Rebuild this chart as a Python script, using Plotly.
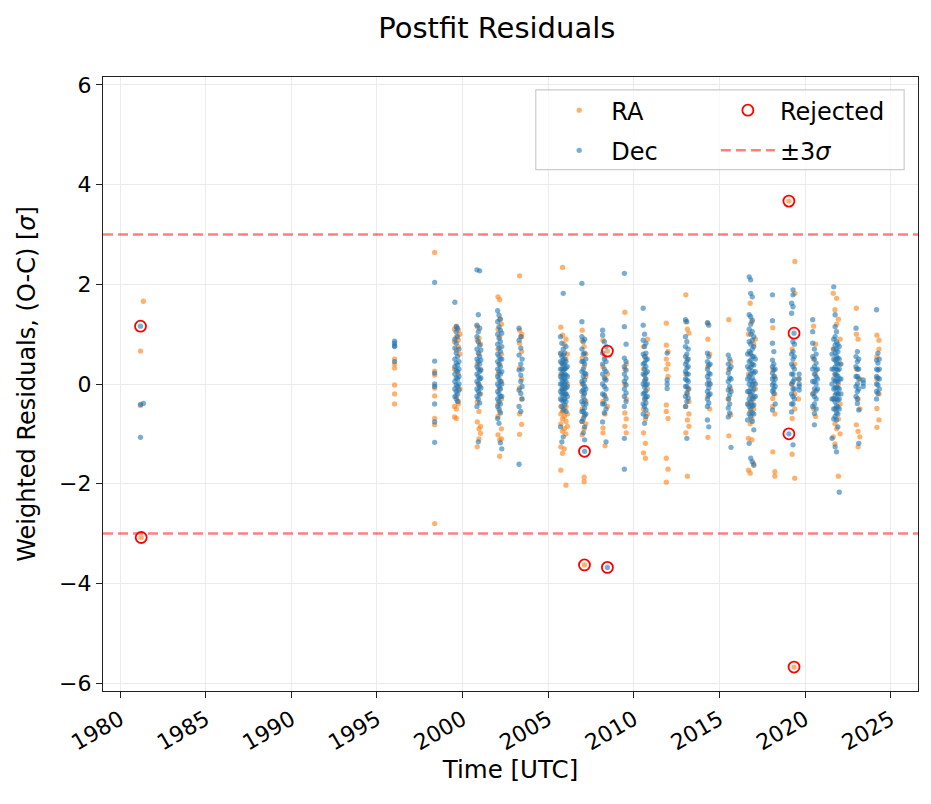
import plotly.graph_objects as go

# Observation nights: (epoch in decimal years, weighted residuals in sigma)
RA_OBS = [
    (1981.36, [1.66]), (1981.19, [0.66, -0.43]), (1981.23, [-3.08]),
    (1996.03, [0.50, 0.40, 0.32, -0.02, -0.20, -0.40]),
    (1998.37, [2.64, 0.26, 0.18, -0.08, -0.24, -0.69, -0.82, -2.80]),
    (1999.53, [1.10, 0.85, 0.30, -0.45, -0.66]),
    (1999.64, [1.16, 0.95, 0.68, -0.25, -0.50, -0.69]),
    (1999.75, [1.08, 0.88, 0.75, 0.20, -0.35, -0.40]),
    (1999.84, [1.00, 0.60, -0.10]),
    (2000.86, [1.15, 0.88, 0.40, -0.36, -0.76, -1.26]),
    (2000.96, [0.92, 0.60, 0.00, -0.55, -0.90, -1.10]),
    (2001.05, [0.80, 0.30, -0.20, -0.85, -0.99]),
    (2002.07, [1.75, 1.10, 0.70, 0.20, -0.40, -0.65, -1.02]),
    (2002.17, [1.69, 1.30, 0.95, 0.40, -0.10, -0.55, -1.12, -1.45]),
    (2002.27, [1.20, 0.60, 0.05, -0.30, -0.90, -1.10]),
    (2003.33, [2.17, 1.08, 0.82, 0.32, -0.08, -0.60, -1.01]),
    (2003.45, [1.00, 0.95, 0.65, 0.10, -0.30, -0.81]),
    (2005.74, [1.14, 0.60, 0.20, -0.45, -0.60, -0.80, -1.26, -1.73]),
    (2005.84, [2.34, 0.98, 0.40, -0.10, -0.55, -0.70, -0.95, -1.39]),
    (2005.94, [0.80, 0.30, -0.30, -0.50, -0.65, -0.90, -1.30]),
    (2006.04, [0.90, 0.50, -0.20, -0.45, -0.75, -1.00, -2.03]),
    (2006.12, [0.60, 0.00, -0.60, -0.85]),
    (2006.99, [1.08, 0.88, 0.52, 0.00, -0.50, -0.75, -1.02]),
    (2007.10, [0.75, 0.35, -0.20, -0.65, -0.90, -1.87, -1.96]),
    (2007.12, [-3.63]),
    (2007.20, [0.60, 0.15, -0.35, -0.80]),
    (2008.20, [0.88, 0.35, -0.35, -0.88, -0.98]),
    (2008.32, [0.55, 0.10, -0.25, -0.60, -1.24]),
    (2008.46, [0.66, 0.20, -0.45]),
    (2009.48, [1.44, 0.30, 0.00, -0.58, -0.85]),
    (2009.56, [0.40, -0.30, -0.70, -0.98]),
    (2010.57, [0.75, 0.30, -0.50, -0.98, -1.38]),
    (2010.68, [0.55, 0.10, -0.30, -0.70, -1.19, -1.49]),
    (2010.80, [0.90, -0.10, -0.60]),
    (2011.90, [1.22, 0.78, 0.50, 0.30, -0.42, -0.55, -1.49, -1.97]),
    (2012.00, [0.65, 0.40, 0.15, -0.69, -1.71]),
    (2013.04, [1.79, 1.25, 0.20, -0.45, -0.98]),
    (2013.13, [1.10, 0.50, -0.20, -0.72, -1.85]),
    (2013.22, [1.02, -0.10, -0.35, -0.60, -0.85]),
    (2014.33, [1.22, 0.90, 0.35, -0.25, -1.07]),
    (2014.43, [0.60, 0.00, -0.50]),
    (2015.55, [1.29, 0.30, -0.30, -1.04]),
    (2015.66, [0.45, -0.10, -0.62]),
    (2016.70, [1.00, 0.20, -0.40, -1.09, -1.73]),
    (2016.80, [1.62, 0.60, -0.20, -0.55, -0.80, -1.79]),
    (2016.90, [1.25, 0.40, -0.40, -0.70, -1.12]),
    (2017.00, [0.80, 0.00, -0.30, -0.50, -1.60]),
    (2017.10, [0.90, -0.10]),
    (2018.12, [1.13, 0.30, -0.29, -0.45, -1.36]),
    (2018.24, [0.15, -0.20, -0.60, -1.76, -1.85]),
    (2019.06, [3.67]),
    (2019.41, [2.46, 1.82]),
    (2019.25, [0.70, 0.00, -0.69, -1.41]),
    (2019.40, [0.40, -0.20, -0.50, -1.89]),
    (2019.36, [-5.68]),
    (2019.62, [0.10, -0.30]),
    (2020.50, [1.16, 0.50, -0.19, -0.49]),
    (2020.62, [0.80, 0.20, -0.65]),
    (2021.65, [1.82, 0.70, -0.30, -1.06]),
    (2021.75, [1.49, 0.20, -0.80, -1.20]),
    (2021.85, [1.72, 1.20, 0.50, -0.50, -0.90]),
    (2021.95, [1.30, 0.00, -0.20, -0.70, -1.85]),
    (2022.05, [0.90, 0.40, -0.40, -1.00]),
    (2023.00, [1.52, 1.00, 0.30, -0.82]),
    (2023.10, [0.90, -0.30, -0.95, -1.26]),
    (2023.20, [0.10, -0.50, -1.06]),
    (2024.20, [0.98, 0.55, 0.10, -0.49, -0.87]),
    (2024.32, [0.88, 0.70, -0.20, -0.72]),
]

DEC_OBS = [
    (1981.19, [1.16, -0.41, -1.07]), (1981.36, [-0.39]),
    (1996.03, [0.86, 0.82, 0.77, 0.75, 0.45]),
    (1998.37, [2.04, 0.46, 0.22, 0.00, -0.05, -0.40, -0.76, -1.17]),
    (1999.55, [1.64, 0.90, 0.72, 0.50, 0.35, 0.20, 0.05, -0.10, -0.25]),
    (1999.63, [1.15, 1.05, 0.82, 0.62, 0.42, 0.28, 0.12, -0.02, -0.15, -0.30]),
    (1999.71, [1.12, 0.95, 0.55, 0.38, 0.25, 0.10, -0.05, -0.20, -0.35]),
    (1999.79, [0.70, 0.45, 0.30, 0.15, 0.00, -0.12]),
    (2000.84, [2.29, 1.18, 0.95, 0.70, 0.50, 0.35, 0.20, 0.05, -0.10, -0.25, -0.45]),
    (2000.92, [1.39, 1.05, 0.85, 0.62, 0.45, 0.30, 0.15, 0.00, -0.15, -0.30, -1.16]),
    (2001.00, [2.27, 1.12, 0.78, 0.55, 0.40, 0.25, 0.10, -0.05, -0.20, -0.38]),
    (2001.07, [0.68, 0.48, 0.28, 0.12, -0.08]),
    (2002.05, [1.47, 1.25, 1.00, 0.80, 0.60, 0.45, 0.30, 0.15, 0.00, -0.15, -0.30, -0.45, -0.69]),
    (2002.13, [1.38, 1.15, 0.92, 0.72, 0.55, 0.40, 0.25, 0.10, -0.05, -0.20, -0.35, -0.50, -0.79]),
    (2002.21, [1.30, 1.08, 0.85, 0.65, 0.50, 0.35, 0.20, 0.05, -0.10, -0.25, -0.40, -0.58, -1.18]),
    (2002.29, [1.02, 0.75, 0.50, 0.25, 0.00, -0.25, -1.30]),
    (2003.30, [1.12, 0.88, 0.58, 0.28, -0.12, -0.45, -1.61]),
    (2003.40, [0.95, 0.72, 0.40, 0.18, 0.05, -0.19, -0.55]),
    (2003.48, [0.50, 0.30, -0.05, -0.30]),
    (2005.72, [0.95, 0.62, 0.45, 0.30, 0.15, 0.00, -0.15, -0.30, -0.86]),
    (2005.80, [0.82, 0.55, 0.42, 0.30, 0.20, 0.10, 0.00, -0.10, -0.20, -0.32, -0.45, -1.16]),
    (2005.88, [1.82, 0.70, 0.58, 0.48, 0.38, 0.28, 0.18, 0.08, -0.02, -0.12, -0.22, -0.35,
               -0.52, -1.06]),
    (2005.96, [0.62, 0.50, 0.40, 0.30, 0.20, 0.10, 0.00, -0.10, -0.20, -0.30, -0.42]),
    (2006.04, [0.75, 0.45, 0.32, 0.18, 0.05, -0.08, -0.20, -0.35, -0.55]),
    (2006.12, [0.35, 0.15, -0.05, -0.25]),
    (2006.97, [2.02, 1.25, 0.95, 0.70, 0.45, 0.25, 0.05, -0.15, -0.35, -0.55, -0.75]),
    (2007.05, [0.85, 0.60, 0.45, 0.30, 0.15, 0.00, -0.12, -0.25, -0.40, -0.55, -0.70, -0.98]),
    (2007.13, [0.90, 0.62, 0.40, 0.22, 0.08, -0.05, -0.18, -0.32, -0.48, -0.62, -0.86, -1.12,
               -1.35]),
    (2007.20, [0.50, 0.20, -0.10, -0.40, -0.60]),
    (2008.18, [1.08, 0.98, 0.62, 0.40, 0.20, 0.00, -0.20, -0.40, -0.76]),
    (2008.28, [0.85, 0.50, 0.30, 0.12, -0.05, -0.22, -0.40, -0.58]),
    (2008.38, [0.75, 0.45, 0.25, 0.08, -0.10, -0.30, -0.50, -1.16]),
    (2008.46, [-3.68]),
    (2009.45, [2.22, 1.15, 0.52, 0.35, 0.20, 0.05, -0.10, -0.25, -0.45, -1.09, -1.71]),
    (2009.55, [0.80, 0.45, 0.28, 0.12, -0.02, -0.18, -0.35]),
    (2010.55, [1.52, 1.18, 0.88, 0.60, 0.40, 0.20, 0.00, -0.20, -0.40, -0.60]),
    (2010.63, [1.00, 0.75, 0.55, 0.42, 0.30, 0.18, 0.06, -0.06, -0.18, -0.30, -0.45, -0.79]),
    (2010.71, [0.82, 0.62, 0.48, 0.35, 0.22, 0.10, -0.02, -0.14, -0.26, -0.38, -0.52, -0.65]),
    (2010.79, [0.50, 0.25, 0.00, -0.25]),
    (2011.95, [0.62, 0.08, 0.00, -0.09]),
    (2013.02, [1.29, 0.95, 0.75, 0.55, 0.40, 0.25, 0.10, -0.05, -0.25, -0.45]),
    (2013.10, [1.25, 0.85, 0.60, 0.45, 0.32, 0.20, 0.08, -0.05, -0.18, -0.35, -1.09]),
    (2013.18, [0.70, 0.50, 0.35, 0.20, 0.05, -0.10, -0.28]),
    (2014.30, [1.23, 0.62, 0.45, 0.30, 0.15, 0.00, -0.15, -0.30, -0.45, -0.72]),
    (2014.38, [1.18, 0.55, 0.38, 0.22, 0.08, -0.08, -0.22, -0.38, -0.86]),
    (2014.46, [0.40, 0.20, 0.00, -0.20]),
    (2015.52, [0.58, 0.40, 0.22, 0.05, -0.12, -0.30, -0.48, -0.66]),
    (2015.60, [0.50, 0.30, 0.12, -0.05, -0.22, -0.40, -0.58]),
    (2015.68, [0.35, 0.10, -0.15, -1.27]),
    (2016.65, [0.60, 0.35, 0.10, -0.15, -0.40, -0.72]),
    (2016.74, [2.15, 1.39, 1.10, 0.85, 0.65, 0.45, 0.30, 0.15, 0.00, -0.15, -0.30, -0.45,
               -0.60, -1.19]),
    (2016.83, [2.09, 1.82, 1.35, 1.20, 1.00, 0.80, 0.62, 0.48, 0.34, 0.20, 0.06, -0.08,
               -0.22, -0.36, -0.50, -0.65, -1.49]),
    (2016.92, [1.75, 1.28, 1.05, 0.88, 0.70, 0.55, 0.40, 0.26, 0.12, -0.02, -0.16, -0.30,
               -0.44, -0.58, -0.75, -1.56]),
    (2017.01, [0.95, 0.75, 0.55, 0.38, 0.22, 0.06, -0.10, -0.26, -0.42, -0.60, -0.92, -1.63]),
    (2017.10, [0.50, 0.25, 0.00, -0.25]),
    (2018.10, [1.79, 1.27, 0.82, 0.48, 0.35, 0.22, 0.10, -0.02, -0.14, -0.52]),
    (2018.18, [0.65, 0.40, 0.28, 0.15, 0.02, -0.10, -0.19]),
    (2018.26, [0.30, 0.10, -0.05, -0.40]),
    (2019.22, [1.62, 1.42, 0.60, 0.40, 0.20, 0.00, -0.20, -0.40, -0.56]),
    (2019.30, [1.89, 1.79, 1.55, 0.85, 0.65, 0.50, 0.35, 0.20, 0.05, -0.10, -0.25, -0.40,
               -1.22]),
    (2019.38, [0.80, 0.55, 0.30, 0.10, -0.10, -0.30]),
    (2019.36, [1.02]), (2019.06, [-1.00]),
    (2019.66, [0.20, 0.10, 0.00, -0.05, -0.12]),
    (2020.45, [1.29, 1.05, 0.82, 0.55, 0.30, 0.05, -0.20, -0.45]),
    (2020.55, [0.70, 0.50, 0.35, 0.20, 0.05, -0.10, -0.25, -0.40, -0.59, -0.82]),
    (2020.65, [0.60, 0.42, 0.28, 0.14, 0.00, -0.14, -0.30, -0.50]),
    (2020.73, [0.30, 0.10, -0.10]),
    (2021.58, [0.60, 0.30, 0.00, -0.30, -1.09]),
    (2021.68, [1.95, 0.90, 0.70, 0.50, 0.30, 0.10, -0.10, -0.30, -0.50, -0.70]),
    (2021.76, [1.39, 1.15, 0.95, 0.78, 0.62, 0.48, 0.34, 0.20, 0.06, -0.08, -0.22, -0.36,
               -0.50, -0.65, -1.26]),
    (2021.84, [1.05, 0.85, 0.70, 0.56, 0.42, 0.30, 0.18, 0.06, -0.06, -0.18, -0.30, -0.44,
               -0.58, -0.72, -1.36]),
    (2021.92, [0.80, 0.65, 0.52, 0.40, 0.28, 0.16, 0.04, -0.08, -0.20, -0.32, -0.46, -0.60,
               -0.86]),
    (2022.00, [0.75, 0.50, 0.30, 0.10, -0.10, -0.30, -0.50, -2.17]),
    (2022.10, [0.40, 0.10, -0.20]),
    (2022.98, [1.12, 0.55, 0.35, 0.15, -0.05, -0.25]),
    (2023.06, [0.65, 0.45, 0.30, 0.15, 0.00, -0.15, -0.30, -0.39]),
    (2023.14, [0.50, 0.30, 0.10, -0.10, -0.52, -1.19]),
    (2023.40, [0.08, 0.02, -0.05]),
    (2024.18, [1.49, 0.48, 0.30, 0.15, 0.00, -0.15, -0.30]),
    (2024.26, [0.62, 0.42, 0.28, 0.12, -0.02, -0.19]),
    (2024.34, [0.50, 0.30, 0.10, -0.10]),
]

# Residuals rejected by the outlier filter
REJECTED_T = [1981.19, 1981.23, 2007.12, 2007.12, 2008.46, 2008.46,
              2019.06, 2019.36, 2019.06, 2019.36]
REJECTED_Y = [1.16, -3.08, -1.35, -3.63, 0.66, -3.68, 3.67, 1.02, -1.00, -5.68]

SIGMA_LIMIT = 3
YEAR_TICKS = [1980, 1985, 1990, 1995, 2000, 2005, 2010, 2015, 2020, 2025]
Y_TICKS = [-6, -4, -2, 0, 2, 4, 6]

FONT = "DejaVu Sans"
RA_COLOUR = "rgba(255,127,14,0.6)"
DEC_COLOUR = "rgba(31,119,180,0.6)"
LIMIT_COLOUR = "rgba(255,0,0,0.5)"
GRID_COLOUR = "#ebebeb"


def flatten(obs):
    times, resid = [], []
    for epoch, values in obs:
        times += [epoch] * len(values)
        resid += values
    return times, resid


ra_t, ra_y = flatten(RA_OBS)
dec_t, dec_y = flatten(DEC_OBS)

fig = go.Figure()

fig.add_trace(go.Scatter(
    x=ra_t, y=ra_y, mode="markers", name="RA",
    marker={"color": RA_COLOUR, "size": 5.3, "line": {"width": 0}},
    legend="legend", legendgroup="ra",
))
fig.add_trace(go.Scatter(
    x=dec_t, y=dec_y, mode="markers", name="Dec",
    marker={"color": DEC_COLOUR, "size": 5.3, "line": {"width": 0}},
    legend="legend", legendgroup="dec",
))
fig.add_trace(go.Scatter(
    x=REJECTED_T, y=REJECTED_Y, mode="markers", name="Rejected",
    marker={"symbol": "circle-open", "color": "red", "size": 11,
            "line": {"width": 1.8}},
    legend="legend2", legendgroup="rej",
))
# legend entry for the threshold lines (the lines themselves are shapes)
fig.add_trace(go.Scatter(
    x=[None], y=[None], mode="lines", name="±3<i>σ</i>",
    line={"color": LIMIT_COLOUR, "width": 2.5, "dash": "10px,5px"},
    legend="legend2", legendgroup="sig",
))

for level in (SIGMA_LIMIT, -SIGMA_LIMIT):
    fig.add_hline(y=level, line={"color": LIMIT_COLOUR, "width": 2.5,
                                  "dash": "10px,5px"})

# legend frame shared by both legend columns
fig.add_shape(type="rect", xref="paper", yref="paper",
              x0=0.531, x1=0.983, y0=0.849, y1=0.979,
              line={"color": "#cccccc", "width": 1.2},
              fillcolor="rgba(255,255,255,0.8)", layer="above")

axis_common = dict(
    showline=True, mirror=True, linecolor="#222222", linewidth=1.3,
    ticks="outside", ticklen=6, tickwidth=1.2, tickcolor="#222222",
    showgrid=True, gridcolor=GRID_COLOUR, gridwidth=1, zeroline=False,
    tickfont={"size": 22, "color": "black"},
)

fig.update_xaxes(
    range=[1979.0, 2026.6], tickvals=YEAR_TICKS, tickangle=-30,
    title={"text": "Time [UTC]", "font": {"size": 24.5, "color": "black"},
           "standoff": 6},
    **axis_common,
)
fig.update_yaxes(
    range=[-6.16, 6.16], tickvals=Y_TICKS,
    title={"text": "Weighted Residuals, (O-C) [<i>σ</i>]",
           "font": {"size": 24, "color": "black"}, "standoff": 16},
    **axis_common,
)

legend_common = dict(
    bgcolor="rgba(0,0,0,0)", borderwidth=0, font={"size": 24, "color": "black"},
    xanchor="left", yanchor="top", tracegroupgap=6, itemwidth=54,
)

# the page adds an 8px body margin, so margins are shifted by that much
fig.update_layout(
    width=931, height=804,
    margin={"l": 95, "r": 21, "t": 69, "b": 121},
    paper_bgcolor="white", plot_bgcolor="white",
    font={"family": FONT, "color": "black"},
    title={"text": "Postfit Residuals", "x": 0.525, "xanchor": "center",
           "xref": "container", "y": 0.975, "yanchor": "middle",
           "font": {"size": 29, "color": "black"}},
    legend={**legend_common, "x": 0.545, "y": 0.982},
    legend2={**legend_common, "x": 0.752, "y": 0.982},
)

fig.write_html("out.html")
